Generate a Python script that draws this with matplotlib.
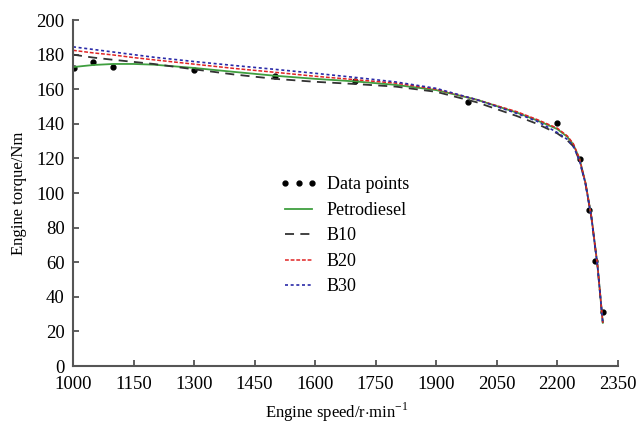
import matplotlib
matplotlib.use("Agg")
import matplotlib.pyplot as plt

plt.rcParams['font.family'] = ['Liberation Serif', 'DejaVu Serif']
plt.rcParams['mathtext.fontset'] = 'custom'
plt.rcParams['mathtext.rm'] = 'Liberation Serif'

# Measured data points
pt_speed = [1003, 1050, 1100, 1300, 1500, 1700, 1978, 2200, 2256, 2280, 2294, 2313]
pt_torque = [172.3, 175.5, 173.0, 171.3, 167.6, 165.0, 152.5, 140.2, 119.6, 90.4, 60.5, 31.5]

# Fitted curves
speed = [1000, 1050, 1100, 1150, 1200, 1300, 1400, 1500, 1600, 1700, 1800, 1900,
         2000, 2100, 2150, 2200, 2225, 2240, 2255, 2270, 2285, 2300, 2313]
petro = [172.8, 174.0, 174.6, 174.6, 174.2, 172.3, 170.0, 167.8, 166.0, 164.5, 162.5, 159.5,
         154.0, 146.5, 142.0, 137.0, 132.5, 128.0, 120.0, 106.0, 86.0, 58.0, 25.0]
b10 = [180.0, 178.3, 177.0, 175.8, 174.6, 171.5, 168.5, 166.0, 164.3, 163.0, 161.5, 158.5,
       152.5, 144.5, 140.0, 134.5, 130.5, 127.0, 119.0, 105.5, 85.5, 57.5, 25.0]
b20 = [182.5, 181.0, 179.8, 178.3, 177.0, 174.5, 172.0, 169.8, 167.5, 165.5, 163.5, 160.0,
       154.0, 147.0, 142.5, 137.5, 133.0, 128.5, 120.0, 106.0, 86.0, 58.0, 25.0]
b30 = [184.5, 183.0, 181.5, 180.0, 178.5, 176.0, 173.7, 171.5, 169.2, 166.8, 164.2, 160.5,
       154.0, 146.0, 141.5, 135.0, 131.0, 127.0, 119.0, 105.5, 85.5, 57.5, 25.0]

xticks = [1000, 1150, 1300, 1450, 1600, 1750, 1900, 2050, 2200, 2350]
yticks = [0, 20, 40, 60, 80, 100, 120, 140, 160, 180, 200]

fig = plt.figure(figsize=(6.39, 4.26), dpi=100)
ax = fig.add_axes([0.1142, 0.1408, 0.8525, 0.8122])

ax.plot(pt_speed, pt_torque, linestyle='none', marker='o', markersize=3.5,
        color='black', label='Data points')
ax.plot(speed, petro, color='#3f9f3f', lw=1.3, label='Petrodiesel')
ax.plot(speed, b10, color='#333333', lw=1.3, linestyle=(0, (5, 3.5)), label='B10')
ax.plot(speed, b20, color='#e02424', lw=1.1, linestyle=(0, (2.5, 1.2)), label='B20')
ax.plot(speed, b30, color='#2a2aa8', lw=1.2, linestyle=(0, (1.8, 1.6)), label='B30')

ax.set_xlim(1000, 2350)
ax.set_ylim(0, 200)
ax.set_xticks(xticks)
ax.set_yticks(yticks)
ax.tick_params(direction='in', length=4, width=1.2, labelsize=13.5, color='#444444')
ax.tick_params(axis='x', pad=7)
ax.tick_params(axis='y', pad=6)
for s in ['top', 'right']:
    ax.spines[s].set_visible(False)
for s in ['left', 'bottom']:
    ax.spines[s].set_linewidth(1.5)
    ax.spines[s].set_color('#555555')

ax.set_xlabel(r'Engine speed/r$\cdot$min$^{\mathregular{-1}}$', fontsize=12)
ax.set_ylabel('Engine torque/Nm', fontsize=12)
ax.xaxis.set_label_coords(0.485, -0.1)
ax.yaxis.set_label_coords(-0.085, 0.5)

leg = fig.legend(loc='upper left', bbox_to_anchor=(0.438, 0.586), frameon=False,
                 fontsize=13, numpoints=3, handlelength=2.1, handletextpad=0.5,
                 labelspacing=0.47, borderpad=0, borderaxespad=0)

fig.savefig('out.png', dpi=100)
